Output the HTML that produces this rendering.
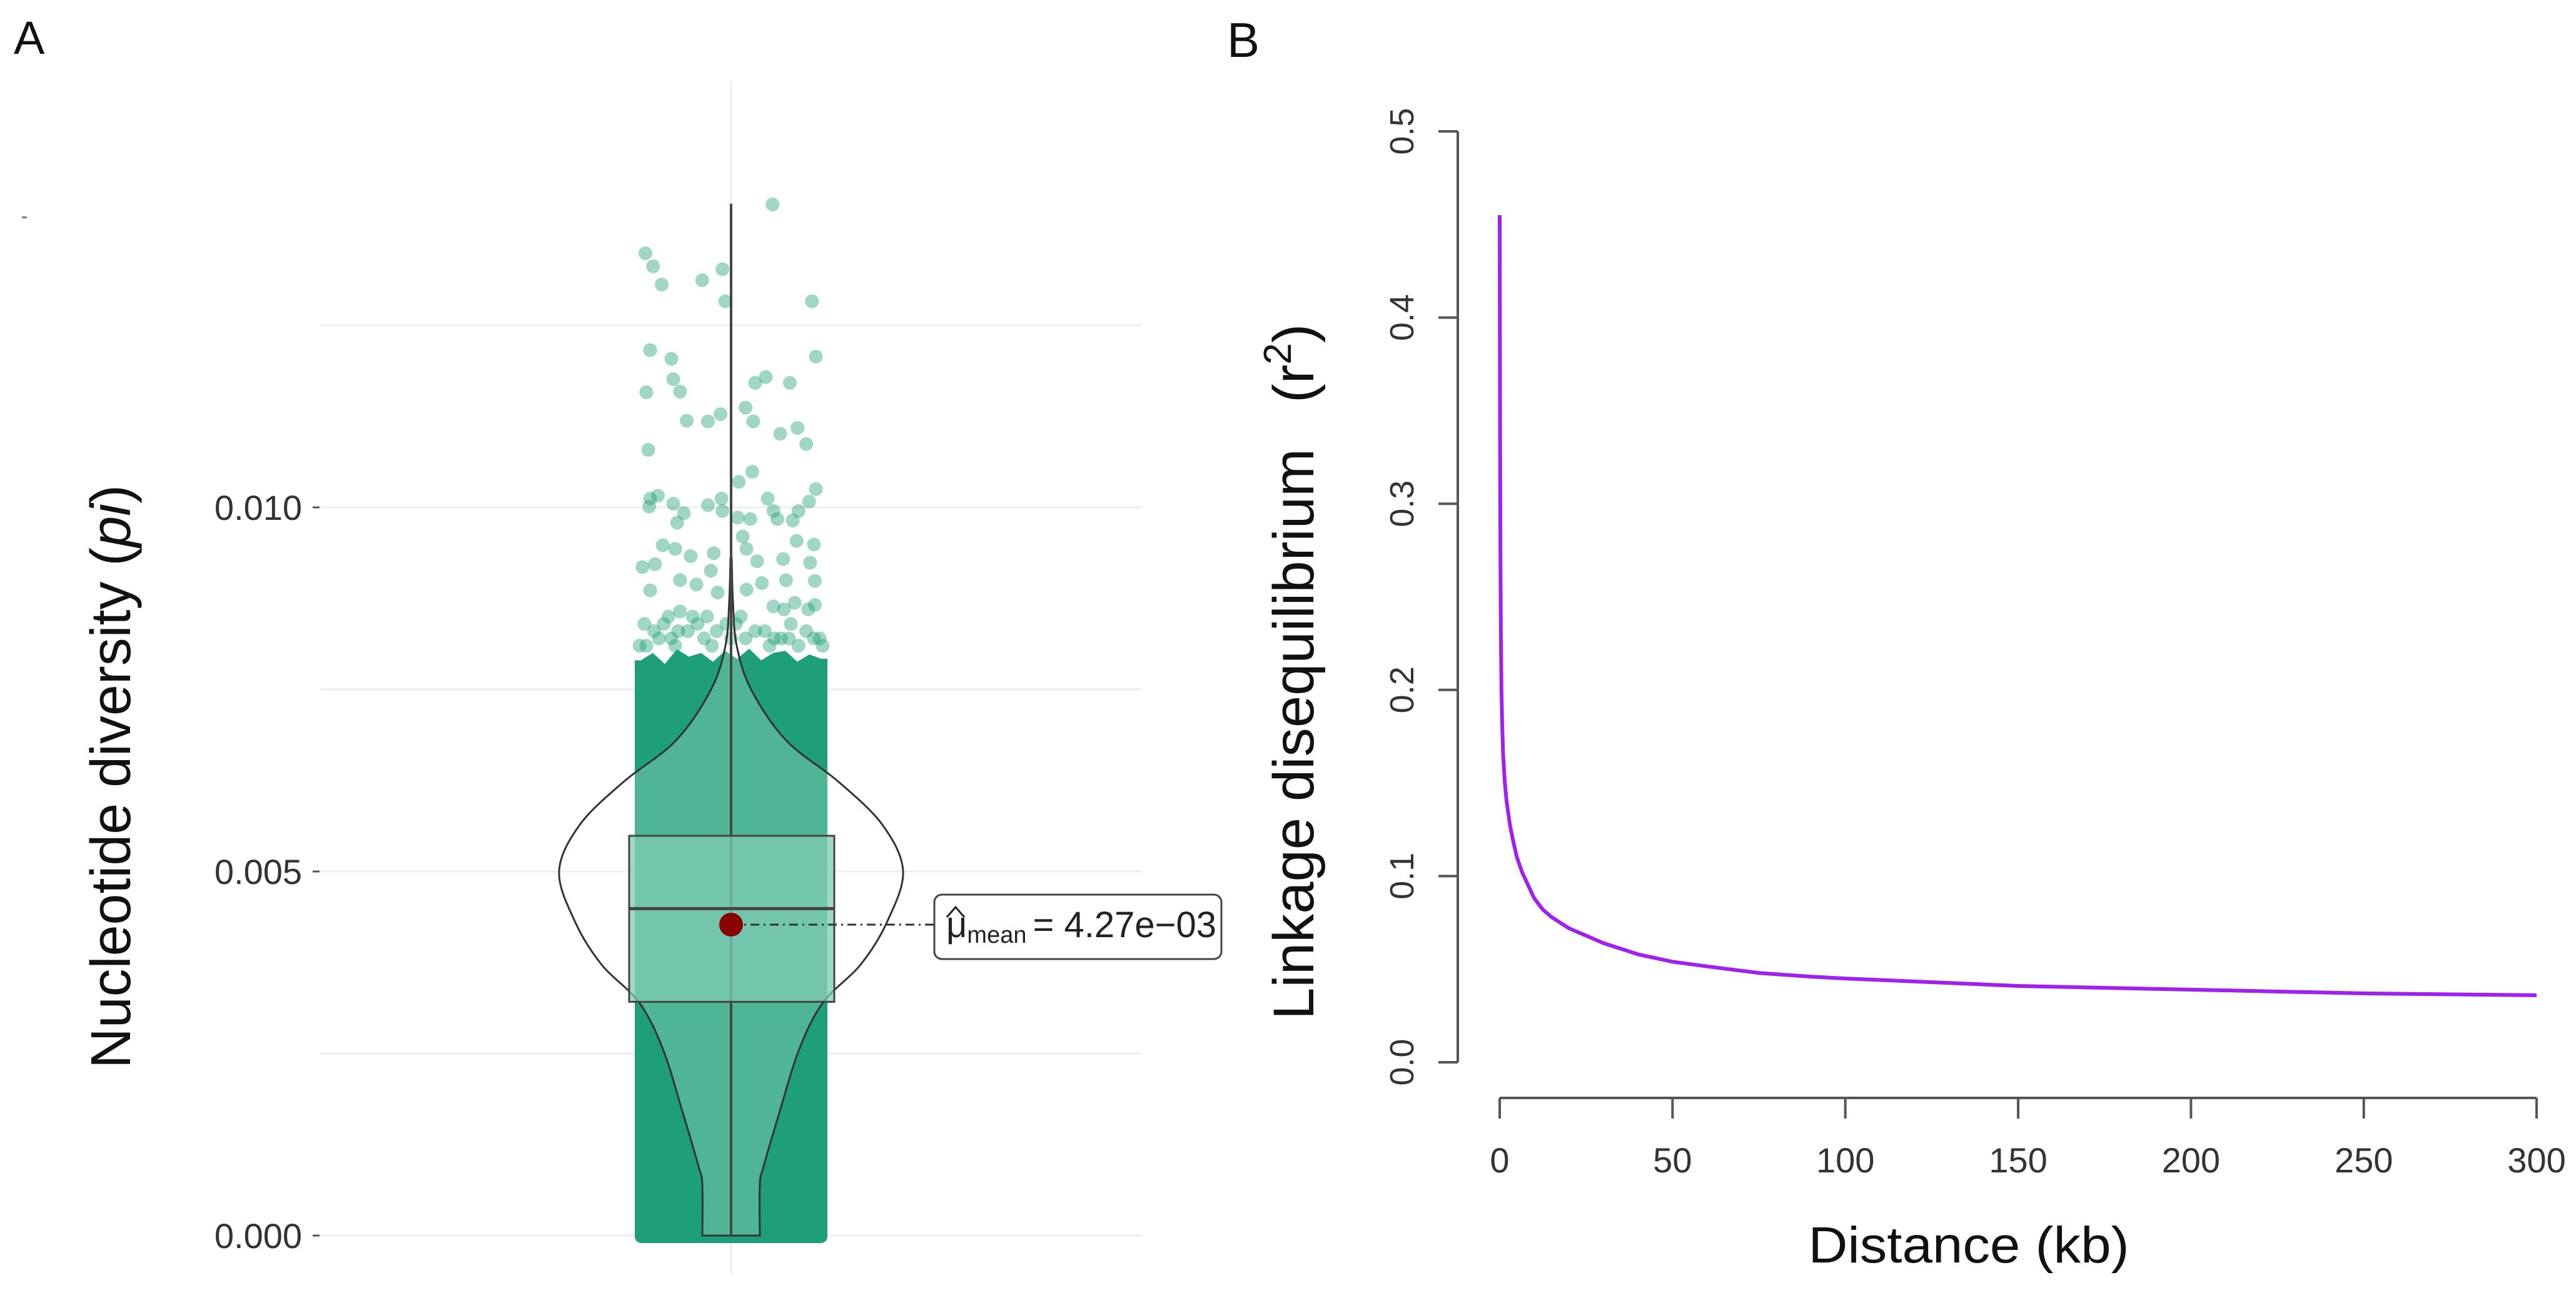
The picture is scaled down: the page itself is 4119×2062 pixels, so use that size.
<!DOCTYPE html>
<html><head><meta charset="utf-8"><style>
html,body{margin:0;padding:0;background:#fff;}
svg{display:block;font-family:"Liberation Sans",Arial,sans-serif;}
</style></head><body>
<svg id="fig" width="4119" height="2062" viewBox="0 0 4119 2062" xmlns="http://www.w3.org/2000/svg">
<rect width="4119" height="2062" fill="#fff"/>
<text x="22" y="86" font-size="74" fill="#111">A</text>
<text x="1962" y="91" font-size="78" fill="#111">B</text>
<rect x="35" y="346" width="8" height="3" fill="#777"/>
<g id="panelA"></g>
<g id="panelB"></g>
</svg>
<script>
// ---------- Panel A data ----------
const aTicks = [0, 0.005, 0.010];
const aTickLabels = ["0.000", "0.005", "0.010"];
const aMinorGrid = [0.0025, 0.0075, 0.0125];
const boxStats = [0.00321, 0.00449, 0.00549]; // q1, median, q3
const whiskerRange = [0, 0.01417];
const meanValue = 0.00427;
const violinVals = [0, 0.0007, 0.00095, 0.00168, 0.00256, 0.0032, 0.00372, 0.0043, 0.005, 0.00564, 0.00623, 0.0068, 0.0075, 0.0081, 0.0087, 0.0093];
const violinDens = [46, 46, 52, 77, 109, 147, 207, 249, 275, 242, 172, 88, 32, 9, 3, 1];
const cloudTop = [0.00790, 0.00800, 0.00785, 0.00805, 0.00795, 0.00800, 0.00788, 0.00803, 0.00792, 0.00806, 0.00790, 0.00800, 0.00803, 0.00788, 0.00798, 0.00792];
const ptVal = [.01416,.01349,.01331,.01306,.01312,.01327,.01283,.01283,.01216,.01204,.01207,.01176,.01159,.01158,.01171,.01179,.01171,.01137,.01118,.01128,.01118,.01119,.01101,.01109,.01087,.01079,.01049,.01035,.01012,.01016,.01001,.01005,.00992,.00979,.01003,.01012,.00995,.00986,.00984,.01012,.00995,.00984,.00982,.00995,.01008,.01025,.0096,.00954,.00949,.00948,.00943,.00933,.00937,.00943,.00926,.00929,.00924,.00918,.00922,.00913,.009,.00894,.009,.00899,.00896,.00886,.00883,.00887,.00864,.00869,.00866,.00857,.0085,
  .0084,.0084,.0083,.0083,.0084,.0083,.0082,.0084,.0083,.0082,.0084,.0083,.0082,.0083,.0084,.0082,.0083,.0082,.0081,.0082,.0081,.0082,.0081,.0082,.0081,.0082,.0081,.0082,.0081,.0081,.0085,.0085,.0086,.0085,.0086];
const ptJitter = [.43,-.89,-.81,-.72,-.30,-.09,-.06,.84,-.84,-.62,.88,-.60,-.53,-.88,.25,.36,.61,.15,.23,-.11,-.24,-.46,.51,.69,.78,-.86,.22,.08,-.84,-.76,-.85,-.60,-.49,-.56,-.24,-.10,-.09,.07,.20,.38,.44,.48,.64,.70,.81,.88,.12,.68,.86,-.71,-.58,-.42,-.18,.16,.27,.54,.82,-.92,-.79,-.21,-.53,-.36,.57,.87,.32,-.84,-.14,.16,.44,.66,.87,-.53,-.25,
  -.90,-.70,-.80,-.55,-.35,-.15,-.62,.05,.25,.45,.62,.78,.92,.35,-.05,-.28,-.45,.15,-.88,-.75,-.58,.52,.70,.86,-.20,.00,.40,.60,.95,-.95,-.65,.10,.55,-.40,.80];

// ---------- Panel B data ----------
const ldDist = [0, 0.05, 0.1, 0.2, 0.35, 0.5, 0.75, 1, 1.5, 2, 3, 4, 5, 6.5, 8, 10, 12.5, 15, 20, 25, 30, 40, 50, 62, 75, 90, 100, 125, 150, 175, 200, 250, 300];
const ldR2 =   [0.455, 0.40, 0.34, 0.28, 0.23, 0.20, 0.18, 0.165, 0.15, 0.14, 0.127, 0.118, 0.11, 0.102, 0.096, 0.088, 0.082, 0.078, 0.072, 0.068, 0.064, 0.058, 0.054, 0.051, 0.048, 0.046, 0.045, 0.043, 0.041, 0.040, 0.039, 0.037, 0.036];
const bXTicks = [0, 50, 100, 150, 200, 250, 300];
const bYTicks = [0, 0.1, 0.2, 0.3, 0.4, 0.5];
const bYTickLabels = ["0.0", "0.1", "0.2", "0.3", "0.4", "0.5"];

const NS = "http://www.w3.org/2000/svg";
function mk(parent, tag, attrs) {
  const e = document.createElementNS(NS, tag);
  for (const k in attrs) e.setAttribute(k, attrs[k]);
  parent.appendChild(e);
  return e;
}
function smooth(pts) {
  let s = `M${pts[0][0]},${pts[0][1]}`;
  for (let i = 0; i < pts.length - 1; i++) {
    const p0 = pts[Math.max(0, i - 1)], p1 = pts[i], p2 = pts[i + 1], p3 = pts[Math.min(pts.length - 1, i + 2)];
    const c1x = p1[0] + (p2[0] - p0[0]) / 6, c1y = p1[1] + (p2[1] - p0[1]) / 6;
    const c2x = p2[0] - (p3[0] - p1[0]) / 6, c2y = p2[1] - (p3[1] - p1[1]) / 6;
    s += ` C${c1x.toFixed(1)},${c1y.toFixed(1)} ${c2x.toFixed(1)},${c2y.toFixed(1)} ${p2[0].toFixed(1)},${p2[1].toFixed(1)}`;
  }
  return s;
}

// ---------- Panel A ----------
const A = document.getElementById("panelA");
const ay = v => 1975 - v * 116400;
const cx = 1169, jitterHalf = 154;
const gx0 = 512, gx1 = 1826;

mk(A, "line", {x1: cx, y1: 131, x2: cx, y2: 2037, stroke: "#ececec", "stroke-width": 3});
aMinorGrid.concat(aTicks).forEach((v) => {
  const l = mk(A, "line", {x1: gx0, y1: ay(v), x2: gx1, y2: ay(v), stroke: "#ececec", "stroke-width": 3});
  
  
});
aTicks.forEach((v, i) => {
  const tk = mk(A, "line", {x1: 500, y1: ay(v), x2: 511, y2: ay(v), stroke: "#555", "stroke-width": 3});
  
  
  const t = mk(A, "text", {x: 483, y: ay(v) + 20, "font-size": 56, "text-anchor": "end", fill: "#333"});
  t.textContent = aTickLabels[i];
  
  
});
const ttl = mk(A, "text", {transform: "translate(208,1708) rotate(-90)", "font-size": 90, fill: "#111", textLength: 933, lengthAdjust: "spacingAndGlyphs"});
ttl.innerHTML = 'Nucleotide diversity (<tspan font-style="italic">pi</tspan>)';



// dense jitter cloud
const cl = cx - jitterHalf, cr = cx + jitterHalf;
const topPts = [[cl, ay(cloudTop[0])]];
cloudTop.forEach((v, i) => topPts.push([cl + (i + 0.5) * (cr - cl) / cloudTop.length, ay(v)]));
topPts.push([cr, ay(cloudTop[cloudTop.length - 1])]);
let d = `M${cl},${ay(0)} L` + topPts.map(p => p.join(",")).join(" L");
d += ` L${cr},${ay(0)} Q${cr},${ay(0) + 12} ${cr - 12},${ay(0) + 12} L${cl + 12},${ay(0) + 12} Q${cl},${ay(0) + 12} ${cl},${ay(0)} Z`;
const cloud = mk(A, "path", {d: d, fill: "#1f9f79"});


ptVal.forEach((v, i) => {
  const c = mk(A, "circle", {cx: cx + ptJitter[i] * jitterHalf, cy: ay(v), r: 11, fill: "#1b9e77", "fill-opacity": 0.42});
  
  
});

// violin
const rightPts = violinVals.map((v, i) => [cx + violinDens[i], ay(v)]);
const leftPts = violinVals.map((v, i) => [cx - violinDens[i], ay(v)]).reverse();
let vd = smooth(rightPts);
vd += " L" + leftPts[0].join(",") + " " + smooth(leftPts).slice(1).replace(/^[^C]*/, "") + " Z";
const vio = mk(A, "path", {d: vd, fill: "#ffffff", "fill-opacity": 0.22, stroke: "#333", "stroke-width": 3, "stroke-linejoin": "round"});



// whisker
const wk = mk(A, "line", {x1: cx, y1: ay(whiskerRange[1]), x2: cx, y2: ay(whiskerRange[0]), stroke: "#444", "stroke-width": 4});


// box
const bx = mk(A, "rect", {x: 1006, y: ay(boxStats[2]), width: 328, height: ay(boxStats[0]) - ay(boxStats[2]), fill: "#7fcbb3", "fill-opacity": 0.75, stroke: "#444", "stroke-width": 3});


const med = mk(A, "line", {x1: 1006, y1: ay(boxStats[1]), x2: 1334, y2: ay(boxStats[1]), stroke: "#444", "stroke-width": 5});


// mean
const ml = mk(A, "line", {x1: cx, y1: ay(meanValue), x2: 1493, y2: ay(meanValue), stroke: "#333", "stroke-width": 3, "stroke-dasharray": "14 7 3 7"});


const md = mk(A, "circle", {cx: cx, cy: ay(meanValue), r: 19, fill: "#8b0000"});


const lb = mk(A, "rect", {x: 1494, y: 1430, width: 459, height: 103, rx: 12, fill: "#fff", stroke: "#444", "stroke-width": 3});


const lt = mk(A, "text", {x: 1513, y: 1498, "font-size": 58, fill: "#222"});
lt.innerHTML = 'μ<tspan font-size="38" dy="9">mean</tspan><tspan dy="-9" dx="10">= 4.27e−03</tspan>';


const hat = mk(A, "path", {d: "M1514,1466 L1528,1450 L1542,1466", fill: "none", stroke: "#222", "stroke-width": 3});



// ---------- Panel B ----------
const B = document.getElementById("panelB");
const bx0 = 2398, bxs = (4056 - 2398) / 300;
const bxf = v => bx0 + v * bxs;
const byf = v => 1698 - v * 2976;

const yAx = mk(B, "line", {x1: 2331, y1: byf(0.5), x2: 2331, y2: byf(0), stroke: "#555", "stroke-width": 4});


bYTicks.forEach((v, i) => {
  const tk = mk(B, "line", {x1: 2300, y1: byf(v), x2: 2331, y2: byf(v), stroke: "#555", "stroke-width": 4});
  
  
  const t = mk(B, "text", {transform: `translate(2260,${byf(v)}) rotate(-90)`, "font-size": 54, "text-anchor": "middle", fill: "#333"});
  t.textContent = bYTickLabels[i];
  
  
});
const xAx = mk(B, "line", {x1: bxf(0), y1: 1755, x2: bxf(300), y2: 1755, stroke: "#555", "stroke-width": 4});


bXTicks.forEach((v) => {
  const tk = mk(B, "line", {x1: bxf(v), y1: 1755, x2: bxf(v), y2: 1788, stroke: "#555", "stroke-width": 4});
  
  
  const t = mk(B, "text", {x: bxf(v), y: 1874, "font-size": 56, "text-anchor": "middle", fill: "#333"});
  t.textContent = String(v);
  
  
});
const pts = ldDist.map((x, i) => `${bxf(x).toFixed(1)},${byf(ldR2[i]).toFixed(1)}`).join(" ");
const curve = mk(B, "polyline", {points: pts, fill: "none", stroke: "#a020f0", "stroke-width": 6, "stroke-linejoin": "round"});



const xt = mk(B, "text", {x: 3148, y: 2018, "font-size": 82, "text-anchor": "middle", fill: "#111", textLength: 513, lengthAdjust: "spacingAndGlyphs"});
xt.textContent = "Distance  (kb)";


const yt1 = mk(B, "text", {transform: "translate(2100,1630) rotate(-90)", "font-size": 92, fill: "#111", textLength: 913, lengthAdjust: "spacingAndGlyphs"});
yt1.textContent = "Linkage disequilibrium";


const yt2 = mk(B, "text", {transform: "translate(2100,644) rotate(-90)", "font-size": 92, fill: "#111"});
yt2.innerHTML = '(r<tspan font-size="62" dy="-36">2</tspan><tspan dy="36">)</tspan>';


</script>
</body></html>
